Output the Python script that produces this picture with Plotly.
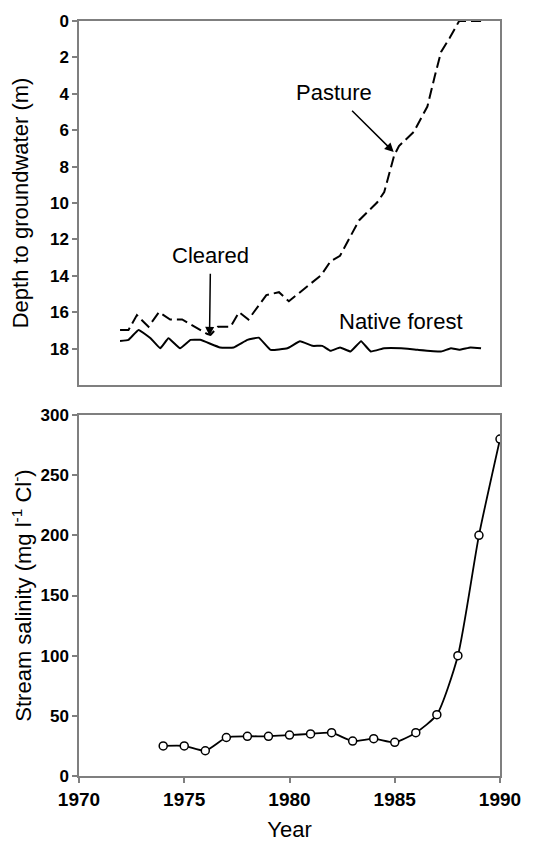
import plotly.graph_objects as go

# ---- Top panel: depth to groundwater (m) ----
pasture_year = [1971.95, 1972.35, 1972.75, 1973.3, 1973.8, 1974.33, 1974.9, 1976.1, 1976.25,
                1976.6, 1977.2, 1977.6, 1978.05, 1978.9, 1979.5, 1979.97, 1981.5, 1981.95,
                1982.4, 1983.3, 1984.17, 1984.5, 1984.97, 1985.2, 1985.9, 1986.55, 1986.9,
                1987.2, 1987.6, 1988.06, 1989.1]
pasture_depth = [16.98, 16.98, 16.16, 16.8, 16.0, 16.4, 16.4, 17.2, 17.25,
                 16.8, 16.8, 16.0, 16.4, 15.06, 14.9, 15.4, 13.97, 13.2,
                 12.9, 10.96, 9.96, 9.4, 7.4, 6.87, 6.1, 4.7, 3.04,
                 1.7, 0.95, 0.0, 0.0]

forest_year = [1971.95, 1972.35, 1972.83, 1973.4, 1973.86, 1974.25, 1974.8, 1975.3, 1975.76,
               1976.7, 1977.35, 1978.0, 1978.54, 1979.1, 1979.9, 1980.5, 1981.1, 1981.56,
               1981.95, 1982.4, 1982.9, 1983.4, 1983.86, 1984.5, 1985.3, 1986.1, 1987.2,
               1987.67, 1988.06, 1988.6, 1989.1]
forest_depth = [17.58, 17.52, 16.98, 17.43, 17.98, 17.43, 17.98, 17.52, 17.52,
                17.94, 17.94, 17.52, 17.4, 18.07, 17.98, 17.6, 17.85, 17.85,
                18.12, 17.94, 18.16, 17.6, 18.16, 17.98, 17.98, 18.07, 18.16,
                17.98, 18.07, 17.94, 17.98]

depth_ticks = [0, 2, 4, 6, 8, 10, 12, 14, 16, 18]

# ---- Bottom panel: stream salinity ----
sal_year = [1974, 1975, 1976, 1977, 1978, 1979, 1980, 1981, 1982, 1983, 1984, 1985,
            1986, 1987, 1988, 1989, 1990]
salinity = [25, 25, 21, 32, 33, 33, 34, 35, 36, 29, 31, 28, 36, 51, 100, 200, 280]

year_ticks = [1970, 1975, 1980, 1985, 1990]
sal_ticks = [0, 50, 100, 150, 200, 250, 300]

FONT = "Liberation Sans, Arial, sans-serif"
AX = "#7f7f7f"

fig = go.Figure()
fig.add_trace(go.Scatter(x=pasture_year, y=pasture_depth, mode="lines",
                         line=dict(color="black", width=2, dash="11px,5px"),
                         xaxis="x", yaxis="y", showlegend=False))
fig.add_trace(go.Scatter(x=forest_year, y=forest_depth, mode="lines",
                         line=dict(color="black", width=2, shape="spline", smoothing=0.3),
                         xaxis="x", yaxis="y", showlegend=False))
fig.add_trace(go.Scatter(x=sal_year, y=salinity, mode="lines+markers",
                         line=dict(color="black", width=1.8, shape="spline", smoothing=0.6),
                         marker=dict(symbol="circle", size=8, color="white",
                                     line=dict(color="black", width=1.5)),
                         xaxis="x2", yaxis="y2", showlegend=False))

tick_y = dict(family=FONT, size=17, color="black", weight="bold")
tick_x = dict(family=FONT, size=19, color="black", weight="bold")
title_f = dict(family=FONT, size=22, color="black")

common = dict(showgrid=False, zeroline=False, showline=True, mirror=True,
              linecolor=AX, linewidth=1.5, automargin=False)

# page body adds an 8px offset, so the figure is sized to fit the window
fig.update_layout(
    width=531, height=834,
    margin=dict(l=71, r=39, t=13, b=66),
    paper_bgcolor="white", plot_bgcolor="white",
    xaxis=dict(domain=[0, 1], anchor="y", range=[1970, 1990], showticklabels=False,
               ticks="", **common),
    yaxis=dict(domain=[0.5179, 1], anchor="x", range=[20, 0], tickvals=depth_ticks,
               ticks="outside", ticklen=5, tickcolor=AX, tickwidth=1.5,
               tickfont=tick_y, **common,
               title=dict(text="Depth to groundwater (m)", font=title_f, standoff=15)),
    xaxis2=dict(domain=[0, 1], anchor="y2", range=[1970, 1990], tickvals=year_ticks,
                ticks="outside", ticklen=5, tickcolor=AX, tickwidth=1.5,
                tickfont=tick_x, **common,
                title=dict(text="Year", font=title_f, standoff=14)),
    yaxis2=dict(domain=[0, 0.4781], anchor="x2", range=[0, 300], tickvals=sal_ticks,
                ticks="outside", ticklen=5, tickcolor=AX, tickwidth=1.5,
                tickfont=tick_y, **common,
                title=dict(text="Stream salinity (mg l<sup>-1</sup> Cl<sup>-</sup>)",
                           font=title_f, standoff=15)),
)

ann_font = dict(family=FONT, size=22, color="black")
# Pasture label with arrow
fig.add_annotation(x=1984.95, y=7.2, ax=1982.1, ay=3.93, xref="x", yref="y",
                   axref="x", ayref="y", text="Pasture", font=ann_font,
                   showarrow=True, arrowhead=2, arrowsize=1.2, arrowwidth=1.5,
                   arrowcolor="black", startstandoff=6)
# Cleared label with arrow
fig.add_annotation(x=1976.2, y=17.3, ax=1976.25, ay=12.9, xref="x", yref="y",
                   axref="x", ayref="y", text="Cleared", font=ann_font,
                   showarrow=True, arrowhead=2, arrowsize=1.2, arrowwidth=1.5,
                   arrowcolor="black", startstandoff=4)
fig.add_annotation(x=1985.29, y=16.5, xref="x", yref="y", text="Native forest",
                   showarrow=False, font=ann_font)

fig.write_html("out.html")
